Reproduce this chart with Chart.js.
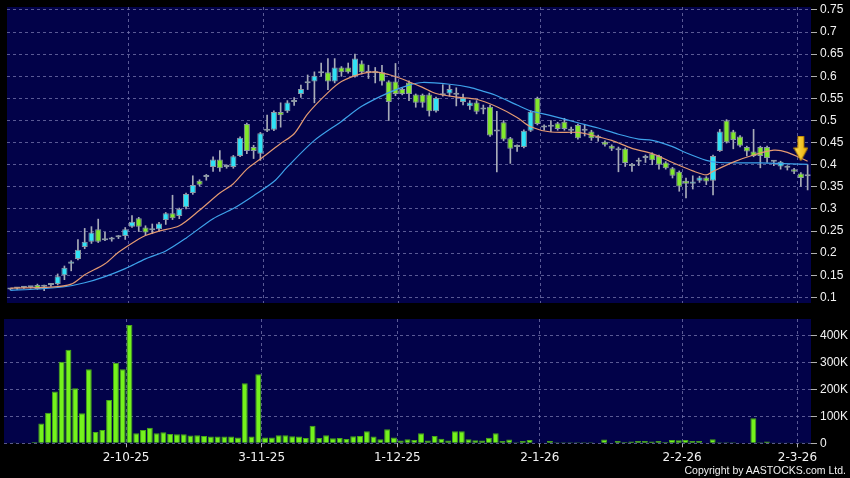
<!DOCTYPE html>
<html>
<head>
<meta charset="utf-8">
<script src="https://cdn.jsdelivr.net/npm/chart.js@4.4.1/dist/chart.umd.min.js"></script>
<style>
  html, body { margin: 0; padding: 0; background: #000; width: 850px; height: 478px; overflow: hidden; }
  canvas { position: absolute; left: 0; }
  #priceChart { top: 0; }
  #volumeChart { top: 310px; }
  #copyright { position: absolute; right: 4px; top: 464px; color: #f0f0f0; font: 10.5px "Liberation Sans", Arial, sans-serif; white-space: nowrap; }
</style>
</head>
<body>
<canvas id="priceChart" width="850" height="310"></canvas>
<canvas id="volumeChart" width="850" height="168"></canvas>
<div id="copyright">Copyright by AASTOCKS.com Ltd.</div>
<script>
// daily candles (one per trading day)
const opens = [
  0.118, 0.120, 0.122, 0.123, 0.128, 0.124, 0.128, 0.130, 0.150, 0.176,
  0.187, 0.214, 0.226, 0.254, 0.231, 0.231, 0.236, 0.239, 0.260, 0.279,
  0.258, 0.252, 0.254, 0.275, 0.290, 0.284, 0.304, 0.336, 0.364, 0.372,
  0.395, 0.412, 0.395, 0.395, 0.420, 0.492, 0.440, 0.425, 0.477, 0.479,
  0.519, 0.521, 0.542, 0.560, 0.584, 0.588, 0.607, 0.609, 0.588, 0.620,
  0.620, 0.600, 0.629, 0.608, 0.607, 0.609, 0.588, 0.588, 0.571, 0.586,
  0.559, 0.558, 0.559, 0.521, 0.558, 0.561, 0.559, 0.542, 0.532, 0.541,
  0.526, 0.531, 0.476, 0.496, 0.460, 0.440, 0.440, 0.477, 0.551, 0.484,
  0.486, 0.494, 0.497, 0.477, 0.490, 0.477, 0.475, 0.460, 0.452, 0.443,
  0.433, 0.436, 0.397, 0.407, 0.415, 0.425, 0.420, 0.405, 0.392, 0.384,
  0.364, 0.357, 0.364, 0.371, 0.364, 0.431, 0.500, 0.475, 0.464, 0.440,
  0.430, 0.440, 0.440, 0.407, 0.396, 0.393, 0.390, 0.380, 0.374
];
const highs = [
  0.120, 0.122, 0.124, 0.125, 0.130, 0.128, 0.132, 0.153, 0.171, 0.183,
  0.231, 0.256, 0.260, 0.277, 0.247, 0.236, 0.240, 0.258, 0.285, 0.281,
  0.262, 0.266, 0.270, 0.292, 0.331, 0.302, 0.336, 0.375, 0.366, 0.378,
  0.418, 0.432, 0.400, 0.421, 0.463, 0.494, 0.444, 0.473, 0.512, 0.522,
  0.540, 0.545, 0.552, 0.580, 0.603, 0.610, 0.630, 0.640, 0.640, 0.622,
  0.630, 0.650, 0.635, 0.625, 0.620, 0.625, 0.590, 0.629, 0.573, 0.590,
  0.560, 0.560, 0.562, 0.553, 0.581, 0.580, 0.574, 0.560, 0.545, 0.545,
  0.535, 0.535, 0.521, 0.500, 0.462, 0.445, 0.479, 0.522, 0.553, 0.490,
  0.500, 0.496, 0.505, 0.485, 0.492, 0.490, 0.478, 0.467, 0.454, 0.445,
  0.440, 0.438, 0.403, 0.415, 0.422, 0.427, 0.422, 0.407, 0.394, 0.386,
  0.370, 0.375, 0.374, 0.373, 0.422, 0.480, 0.502, 0.478, 0.466, 0.442,
  0.480, 0.442, 0.442, 0.410, 0.408, 0.398, 0.392, 0.382, 0.400
];
const lows = [
  0.117, 0.118, 0.120, 0.121, 0.118, 0.115, 0.125, 0.128, 0.140, 0.160,
  0.185, 0.210, 0.222, 0.224, 0.228, 0.227, 0.233, 0.231, 0.258, 0.249,
  0.240, 0.244, 0.250, 0.265, 0.276, 0.278, 0.300, 0.333, 0.352, 0.365,
  0.385, 0.385, 0.392, 0.392, 0.418, 0.425, 0.414, 0.410, 0.475, 0.477,
  0.485, 0.518, 0.534, 0.552, 0.570, 0.540, 0.600, 0.570, 0.585, 0.600,
  0.607, 0.598, 0.605, 0.595, 0.585, 0.580, 0.500, 0.556, 0.558, 0.545,
  0.530, 0.530, 0.510, 0.519, 0.555, 0.555, 0.533, 0.535, 0.525, 0.515,
  0.515, 0.464, 0.384, 0.454, 0.403, 0.430, 0.438, 0.475, 0.490, 0.478,
  0.475, 0.478, 0.478, 0.470, 0.458, 0.465, 0.455, 0.453, 0.442, 0.432,
  0.384, 0.396, 0.385, 0.398, 0.405, 0.400, 0.390, 0.390, 0.370, 0.340,
  0.325, 0.345, 0.360, 0.355, 0.332, 0.430, 0.449, 0.436, 0.440, 0.420,
  0.418, 0.393, 0.405, 0.398, 0.390, 0.388, 0.380, 0.351, 0.343
];
const closes = [
  0.118, 0.120, 0.122, 0.123, 0.119, 0.124, 0.129, 0.148, 0.167, 0.181,
  0.208, 0.226, 0.247, 0.226, 0.229, 0.233, 0.238, 0.254, 0.271, 0.260,
  0.247, 0.254, 0.267, 0.290, 0.279, 0.300, 0.334, 0.354, 0.355, 0.376,
  0.412, 0.392, 0.399, 0.419, 0.461, 0.431, 0.431, 0.471, 0.480, 0.519,
  0.512, 0.541, 0.544, 0.571, 0.586, 0.601, 0.609, 0.588, 0.620, 0.609,
  0.609, 0.640, 0.609, 0.609, 0.608, 0.588, 0.542, 0.560, 0.560, 0.560,
  0.540, 0.540, 0.521, 0.551, 0.557, 0.571, 0.558, 0.551, 0.541, 0.520,
  0.525, 0.466, 0.475, 0.457, 0.436, 0.440, 0.477, 0.520, 0.492, 0.484,
  0.486, 0.481, 0.481, 0.477, 0.460, 0.477, 0.460, 0.460, 0.445, 0.436,
  0.433, 0.404, 0.397, 0.407, 0.415, 0.410, 0.400, 0.392, 0.375, 0.351,
  0.357, 0.362, 0.371, 0.362, 0.420, 0.475, 0.451, 0.456, 0.443, 0.430,
  0.420, 0.420, 0.415, 0.407, 0.407, 0.393, 0.384, 0.370, 0.374
];
const volumes = [
  2000, 1000, 2000, 2000, 5000, 74000, 114000, 193000, 304000, 348000,
  205000, 112000, 276000, 42000, 50000, 161000, 300000, 276000, 441000, 37000,
  50000, 58000, 37000, 41000, 35000, 34000, 34000, 29000, 30000, 27000,
  25000, 25000, 25000, 25000, 22000, 224000, 25000, 257000, 22000, 22000,
  30000, 30000, 26000, 25000, 20000, 65000, 20000, 30000, 19000, 20000,
  16000, 26000, 27000, 45000, 25000, 15000, 52000, 22000, 10000, 15000,
  12000, 37000, 10000, 27000, 17000, 10000, 45000, 45000, 15000, 11000,
  10000, 21000, 37000, 9000, 14000, 4000, 9000, 12000, 2000, 2000,
  9000, 4000, 4000, 4000, 4000, 4000, 4000, 2000, 14000, 2000,
  9000, 5000, 7000, 9000, 9000, 7000, 9000, 5000, 12000, 11000,
  12000, 9000, 9000, 2000, 15000, 4000, 4000, 4000, 2000, 2000,
  93000, 4000, 7000, 1000, 1000, 1000, 2000, 1000, 1000
];

// moving averages read at sample days: [day index, value]
const maFast = [
  [0, 0.121], [6, 0.123], [9, 0.130], [11, 0.151], [14, 0.176], [16, 0.202],
  [19, 0.232], [20, 0.240], [22, 0.250], [25, 0.262], [28, 0.297], [31, 0.336],
  [33, 0.357], [35, 0.390], [37, 0.413], [40, 0.448], [42, 0.470], [44, 0.515],
  [47, 0.563], [49, 0.588], [52, 0.606], [54, 0.610], [56, 0.604], [58, 0.594],
  [61, 0.575], [63, 0.561], [66, 0.553], [69, 0.548], [72, 0.531], [75, 0.507],
  [77, 0.486], [80, 0.474], [84, 0.473], [86, 0.467], [89, 0.455], [92, 0.437],
  [95, 0.425], [98, 0.405], [101, 0.386], [103, 0.377], [104, 0.385], [107, 0.406],
  [110, 0.422], [113, 0.433], [115, 0.428], [118, 0.408]
];
const maSlow = [
  [0, 0.116], [4, 0.119], [8, 0.124], [11, 0.133], [14, 0.147], [17, 0.165],
  [20, 0.187], [23, 0.205], [26, 0.234], [30, 0.278], [33, 0.301], [36, 0.330],
  [39, 0.362], [41, 0.395], [45, 0.455], [49, 0.498], [52, 0.532], [56, 0.563],
  [59, 0.580], [61, 0.586], [65, 0.582], [68, 0.575], [70, 0.566], [72, 0.556],
  [75, 0.535], [77, 0.522], [80, 0.511], [84, 0.495], [87, 0.483], [90, 0.469],
  [93, 0.458], [95, 0.455], [98, 0.441], [100, 0.427], [103, 0.410], [105, 0.405],
  [111, 0.404], [118, 0.401]
];

// x-axis tick labels (day index -> label)
const tickIdx = [18, 38, 58, 79, 100, 117];
const tickText = ['2-10-25', '3-11-25', '1-12-25', '2-1-26', '2-2-26', '2-3-26'];

const priceTicks = [0.1, 0.15, 0.2, 0.25, 0.3, 0.35, 0.4, 0.45, 0.5, 0.55, 0.6, 0.65, 0.7, 0.75];
const priceTickText = ['0.1', '0.15', '0.2', '0.25', '0.3', '0.35', '0.4', '0.45', '0.5', '0.55', '0.6', '0.65', '0.7', '0.75'];
const volTicks = [0, 100000, 200000, 300000, 400000];
const volTickText = ['0', '100K', '200K', '300K', '400K'];

const arrowDay = 117;
const arrowValue = 0.436;

const NAVY = '#020249';
const GRID = 'rgba(120, 120, 175, 0.75)';
const XFONT = { family: 'DejaVu Sans', size: 12 };
const YFONT = { family: 'Liberation Sans', size: 12 };

const labels = opens.map((_, i) => i);
const wicks = lows.map((l, i) => [l, highs[i]]);
const bodies = opens.map((o, i) => [o, closes[i]]);
const bodyColors = opens.map((o, i) =>
  closes[i] > o ? '#30e2f6' : closes[i] < o ? '#82e82c' : '#9aa4ae');

function toSeries(points) {
  const out = labels.map(() => null);
  points.forEach(([i, v]) => { out[i] = v; });
  return out;
}

const arrowSeries = labels.map(i => (i === arrowDay ? arrowValue : null));

// yellow down arrow marker
const arrowImg = document.createElement('canvas');
arrowImg.width = 15;
arrowImg.height = 26;
(function () {
  const c = arrowImg.getContext('2d');
  const g = c.createLinearGradient(0, 0, 15, 0);
  g.addColorStop(0, '#ffe65c');
  g.addColorStop(1, '#eaa800');
  c.fillStyle = g;
  c.strokeStyle = '#b88000';
  c.beginPath();
  c.moveTo(4.5, 0.5); c.lineTo(10.5, 0.5); c.lineTo(10.5, 12);
  c.lineTo(14.5, 12); c.lineTo(7.5, 25); c.lineTo(0.5, 12);
  c.lineTo(4.5, 12); c.closePath();
  c.fill();
  c.stroke();
})();

const navyBg = {
  id: 'navyBg',
  beforeDraw(chart) {
    const { ctx, chartArea: a } = chart;
    ctx.save();
    ctx.fillStyle = NAVY;
    ctx.fillRect(a.left, a.top, a.right - a.left, a.bottom - a.top);
    ctx.restore();
  }
};

const monthGrid = (c) => (tickIdx.includes(c.index) ? GRID : 'rgba(0,0,0,0)');
const monthTick = (c) => (tickIdx.includes(c.index) ? '#b0b0b0' : 'rgba(0,0,0,0)');

new Chart(document.getElementById('priceChart'), {
  type: 'bar',
  data: {
    labels,
    datasets: [
      { type: 'line', data: arrowSeries, showLine: false, pointStyle: arrowImg, pointRadius: 6, order: -1 },
      { type: 'line', data: toSeries(maFast), borderColor: '#e49a72', borderWidth: 1.2, pointRadius: 0, spanGaps: true, tension: 0.3, order: 0 },
      { type: 'line', data: toSeries(maSlow), borderColor: '#3ea2ea', borderWidth: 1.2, pointRadius: 0, spanGaps: true, tension: 0.3, order: 0 },
      { data: bodies, backgroundColor: bodyColors, borderColor: '#8c98a4', borderWidth: 1, borderSkipped: false,
        grouped: false, categoryPercentage: 1, barPercentage: 0.9, minBarLength: 2, order: 2 },
      { data: wicks, backgroundColor: '#a8acb8', barThickness: 1, grouped: false, order: 3 }
    ]
  },
  options: {
    responsive: false,
    animation: false,
    events: [],
    layout: { padding: { left: 4, top: 6, right: 0, bottom: 3.3 } },
    plugins: { legend: { display: false }, tooltip: { enabled: false } },
    scales: {
      x: {
        offset: true,
        grid: { offset: true, color: monthGrid, drawTicks: false },
        border: { display: false, dash: [3, 3] },
        ticks: { display: false, autoSkip: false },
        afterFit: (a) => { a.height = 0; a.paddingLeft = 0; a.paddingRight = 0; }
      },
      y: {
        position: 'right',
        min: 0.0873,
        max: 0.7567,
        afterBuildTicks: (a) => { a.ticks = priceTicks.map(v => ({ value: v })); },
        afterFit: (a) => { a.width = 39; a.paddingTop = 0; a.paddingBottom = 0; },
        grid: { color: GRID, tickLength: 6, tickColor: '#b0b0b0', tickBorderDash: [10, 0] },
        border: { display: false, dash: [3, 3] },
        ticks: { color: '#f2f2f2', font: YFONT, padding: 3, callback: (v, i) => priceTickText[i] }
      }
    }
  },
  plugins: [navyBg]
});

new Chart(document.getElementById('volumeChart'), {
  type: 'bar',
  data: {
    labels,
    datasets: [
      { data: volumes, backgroundColor: '#74f21c', borderColor: '#47a818', borderWidth: 1,
        categoryPercentage: 1, barPercentage: 0.88 }
    ]
  },
  options: {
    responsive: false,
    animation: false,
    events: [],
    layout: { padding: { left: 4, top: 9, right: 0, bottom: 0 } },
    plugins: { legend: { display: false }, tooltip: { enabled: false } },
    scales: {
      x: {
        offset: true,
        grid: { offset: true, color: monthGrid, tickColor: monthTick, tickLength: 4, tickBorderDash: [10, 0] },
        border: { display: false, dash: [3, 3] },
        ticks: {
          autoSkip: false, maxRotation: 0, minRotation: 0, padding: 3, labelOffset: -3.4,
          color: '#f2f2f2', font: XFONT,
          callback: (v, i) => { const k = tickIdx.indexOf(i); return k >= 0 ? tickText[k] : ''; }
        },
        afterFit: (a) => { a.height = 34.7; a.paddingLeft = 0; a.paddingRight = 0; }
      },
      y: {
        position: 'right',
        min: 0,
        max: 463000,
        afterBuildTicks: (a) => { a.ticks = volTicks.map(v => ({ value: v })); },
        afterFit: (a) => { a.width = 39; a.paddingTop = 0; a.paddingBottom = 0; },
        grid: { color: GRID, tickLength: 6, tickColor: '#b0b0b0', tickBorderDash: [10, 0] },
        border: { display: false, dash: [3, 3] },
        ticks: { color: '#f2f2f2', font: YFONT, padding: 3, callback: (v, i) => volTickText[i] }
      }
    }
  },
  plugins: [navyBg]
});
</script>
</body>
</html>
